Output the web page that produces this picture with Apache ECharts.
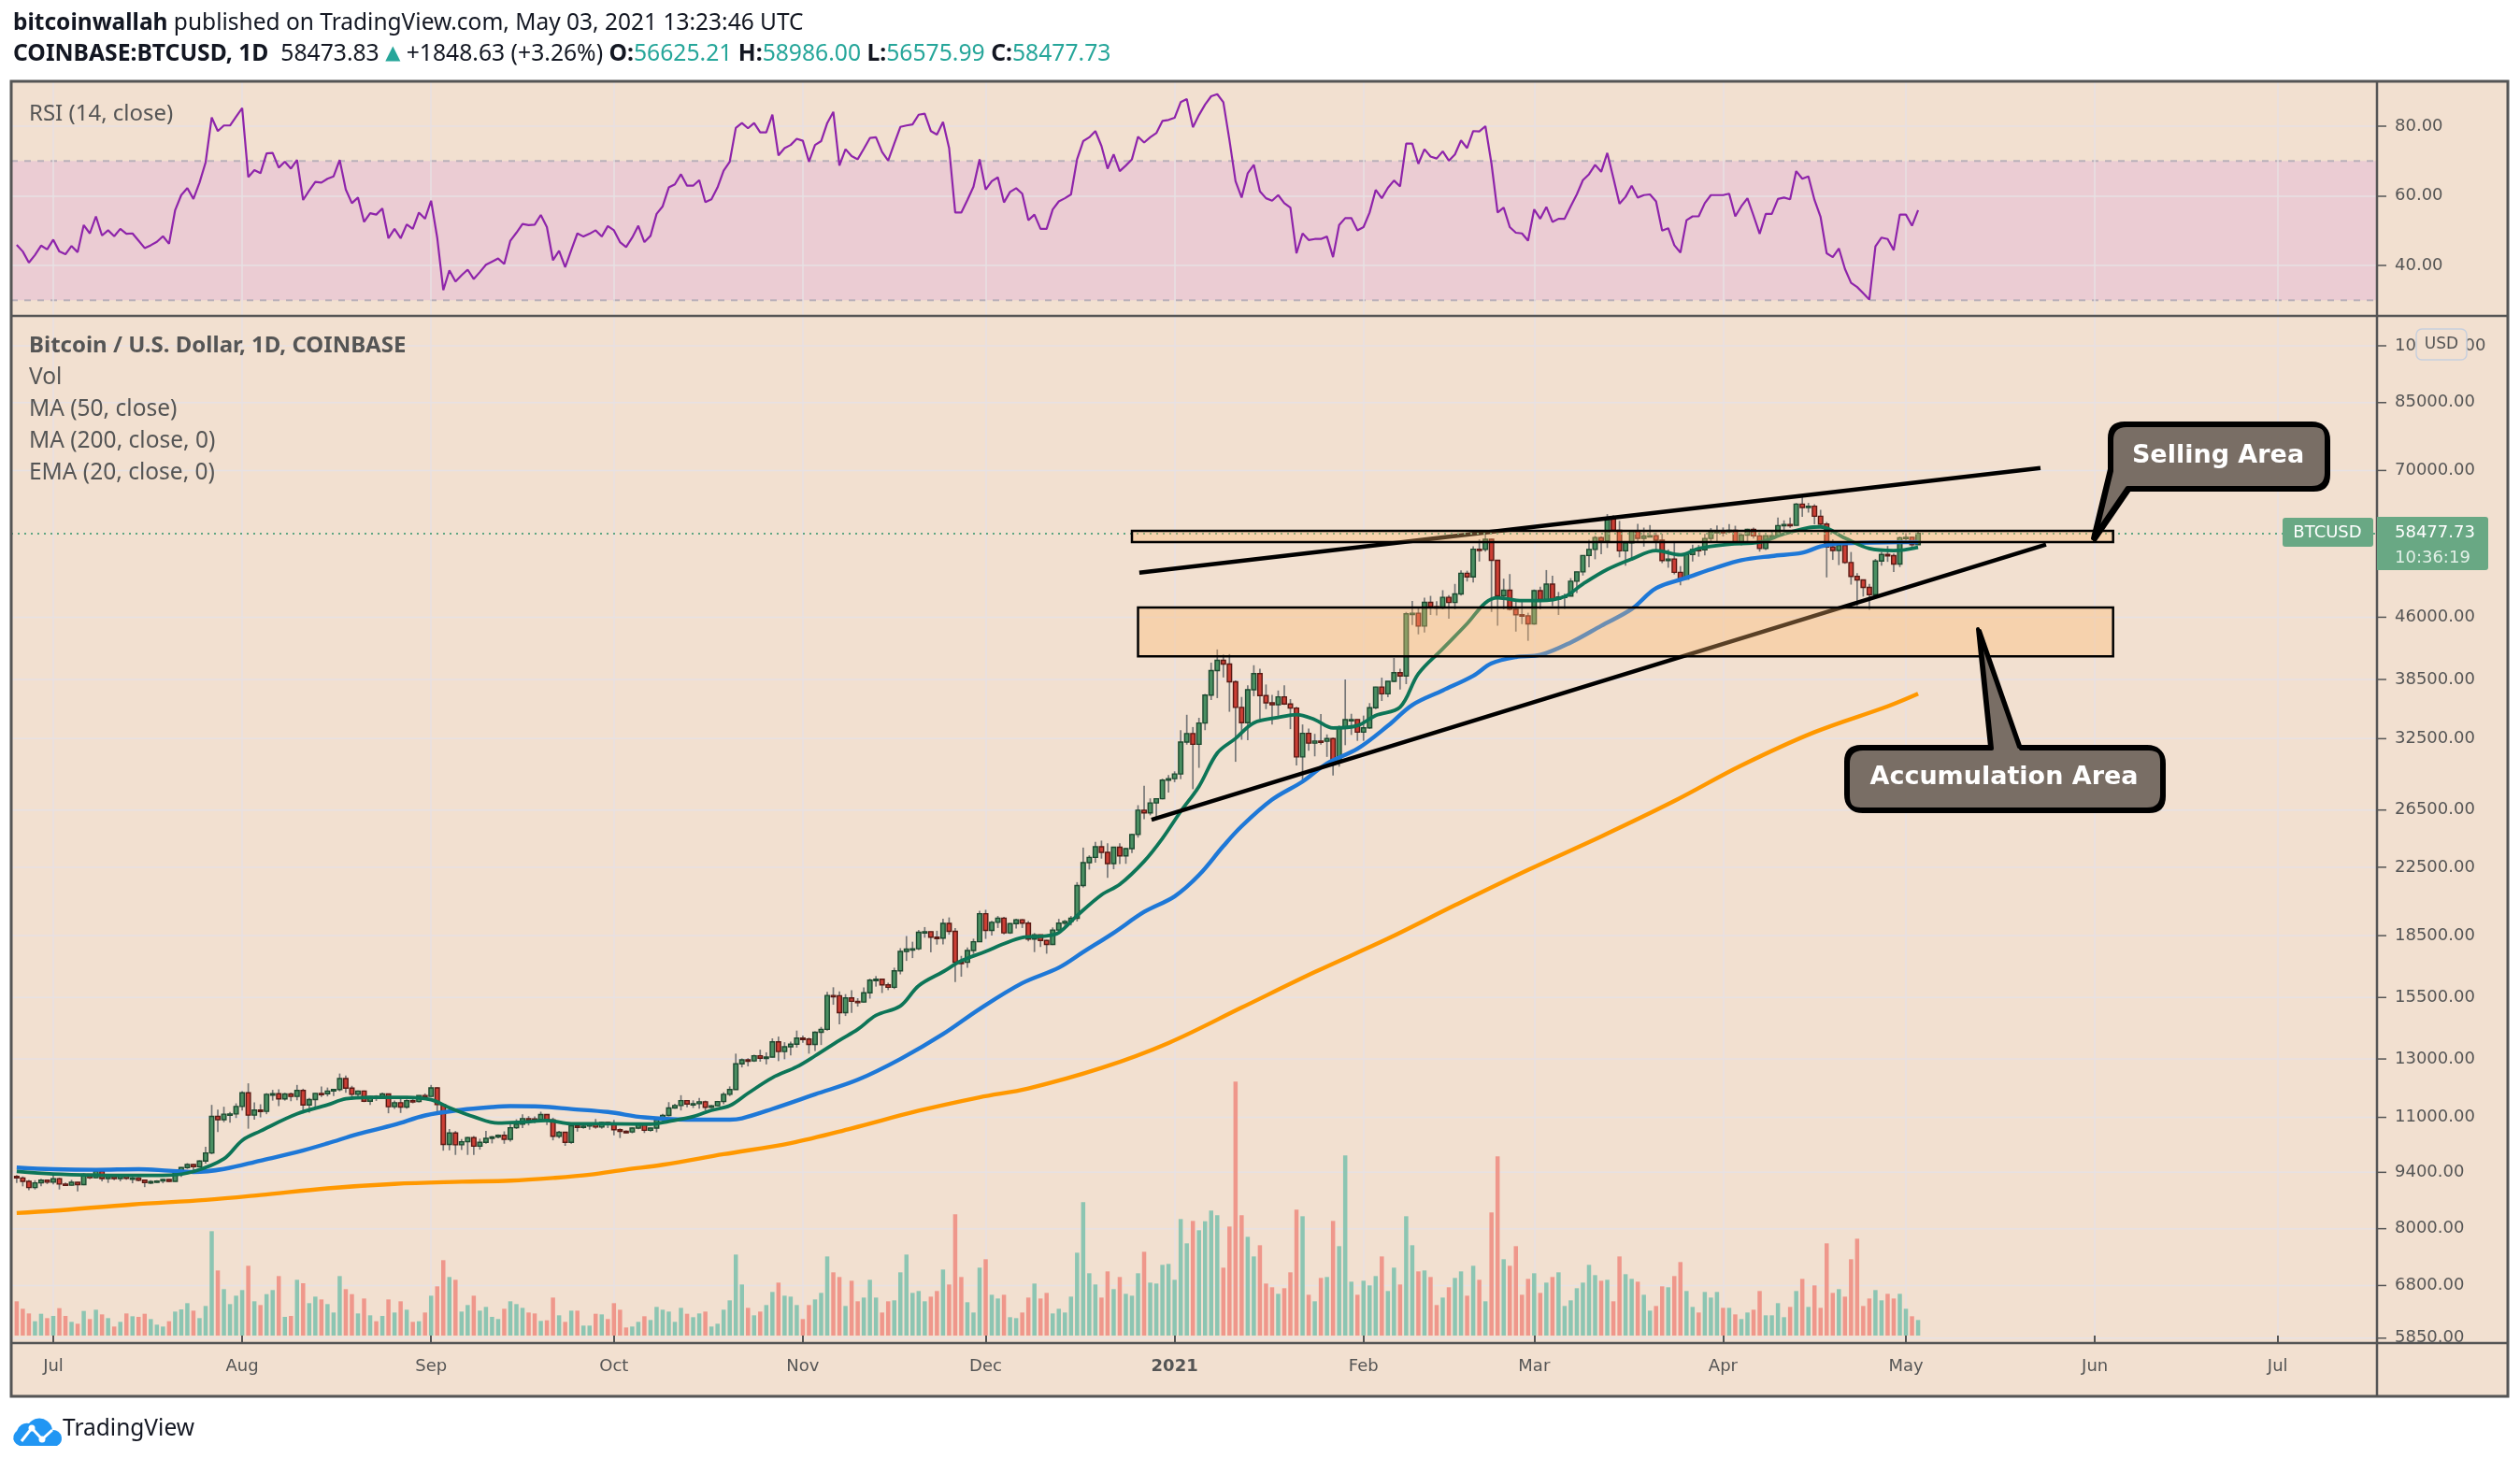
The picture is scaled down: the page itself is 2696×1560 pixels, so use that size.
<!DOCTYPE html>
<html><head><meta charset="utf-8">
<script src="https://cdn.jsdelivr.net/npm/echarts@6/dist/echarts.min.js"></script>
<style>html,body{margin:0;padding:0;background:#fff}#c{width:2696px;height:1560px}</style>
</head><body><div id="c"></div>
<script>
// ---------- DATA ----------
const firstDate = '2020-06-25';
const firstOpen = 9290;
const closes = [
// Jun 25-30
9250,9160,9000,9120,9190,9140,
// Jul
9230,9090,9060,9135,9075,9345,9255,9435,9235,9290,9235,9300,9240,9250,9190,9130,9155,9170,9210,9160,9390,9530,9610,9550,9710,9935,11030,10930,11100,11110,11350,
// Aug
11800,11070,11230,11190,11750,11770,11600,11760,11680,11880,11400,11575,11780,11770,11860,11910,12290,11960,11750,11860,11520,11680,11650,11760,11340,11470,11330,11540,11510,11710,11680,
// Sep
11970,11410,10180,10520,10170,10260,10380,10130,10240,10360,10400,10450,10330,10680,10790,10960,10950,10940,11090,10920,10420,10540,10240,10740,10690,10730,10780,10700,10840,10780,
// Oct
10620,10570,10550,10670,10790,10600,10670,10920,11060,11300,11380,11540,11430,11440,11500,11320,11370,11510,11750,11910,12820,12970,12930,13120,13030,13070,13650,13280,13460,13560,13800,
// Nov
13760,13550,14030,14150,15590,15580,14840,15480,15330,15300,15710,16290,16330,16070,15960,16730,17680,17800,17820,18680,18710,18420,18370,19160,18730,17150,17140,17730,18180,19700,
// Dec
18780,19220,19450,18650,19150,19360,19170,18320,18550,18250,18040,18800,19170,19270,19440,21350,22800,23140,23860,23480,22740,23820,23240,23730,24710,26490,26280,27040,27370,28860,28990,
// Jan
29380,32190,32980,31980,33990,36820,39490,40670,40240,38240,35540,34020,37390,39150,36770,36010,35820,36630,35890,35470,30850,33000,32090,32280,32260,32510,30430,33470,34320,34330,33110,
// Feb
33530,35510,37670,36950,38300,39250,38880,46450,46530,44850,48000,47410,47230,48690,47980,49170,52170,51630,55890,55840,57490,54130,48900,49700,47060,46330,46190,45140,
// Mar
49630,48380,50560,48440,48760,48880,51000,52380,54890,55850,57770,57230,61190,59000,55630,56900,58920,57650,58030,58100,57350,54100,54340,52300,51320,55050,55850,55780,57630,58760,58800,
// Apr
58730,58970,57090,58200,59130,58050,56000,58090,58100,59780,59990,59830,63580,62960,63200,61400,60050,56240,55690,56500,53800,51700,51190,50100,49070,54020,55040,54860,53570,57750,
// May 1-3
57830,56625.21,58477.73
];
const highs = [
9330,9290,9200,9190,9230,9200,
9310,9260,9130,9200,9140,9380,9360,9460,9440,9310,9290,9340,9340,9280,9270,9210,9190,9190,9230,9220,9420,9540,9650,9630,9730,10110,11400,11250,11340,11170,11450,
11860,12125,11480,11420,11790,11900,11920,11800,11810,12070,11940,11630,11790,12020,11980,11930,12470,12400,12040,11880,11880,11690,11720,11810,11770,11540,11590,11580,11590,11720,11780,
12070,11990,11440,10640,10580,10340,10400,10430,10350,10580,10430,10480,10570,10780,10940,11100,11040,11030,11180,11090,10990,10580,10550,10770,10760,10800,10800,10950,10860,10860,
10920,10660,10600,10690,10800,10800,10680,10950,11110,11490,11440,11720,11560,11550,11630,11540,11400,11530,11820,12020,13200,13020,13030,13160,13350,13250,13790,13860,13640,13660,14100,
13900,13820,14070,14250,15750,15960,15770,15650,15830,15470,15950,16360,16480,16330,16170,16880,17850,18480,18180,18800,18960,18710,18760,19420,19490,18900,17460,17880,18340,19860,
19920,19300,19570,19520,19180,19420,19400,19290,18640,18560,18280,18940,19410,19350,19570,21560,23800,23280,24200,24280,24100,23840,24100,23790,24770,26870,28400,27400,27400,28990,29300,
29600,33300,34800,33600,34500,36940,40400,41950,41350,41400,38400,36620,37850,40100,39700,37950,36850,37300,37850,36400,35600,33850,33450,32950,34880,32900,32600,33750,38500,34900,34330,
34720,35980,37700,38700,38300,40950,39700,46700,48200,47330,48650,48900,48150,49700,49000,50600,52600,52550,56350,57500,58350,57580,54200,51370,52050,48400,48280,46600,
49800,50200,52650,51800,49450,49200,51450,52400,54900,57400,58100,58000,61790,61600,60600,56950,58980,60100,59450,59880,58600,58430,55850,57200,53250,55100,56600,56550,58400,59370,59800,
59470,60050,59760,58500,59250,59450,58650,58150,58850,61200,60700,61200,63780,64900,63800,63550,62550,60400,57500,57100,56770,55440,52200,51250,50600,54350,55450,56400,55200,57950,
58500,57950,58986
];
const lows = [
9120,9030,8930,8950,9030,9090,
9080,8950,9040,9050,8900,9060,9220,9240,9160,9120,9190,9160,9200,9110,9160,9010,9090,9120,9110,9140,9150,9280,9490,9460,9530,9640,9900,10550,10850,10830,10980,
11220,10650,10930,11000,11100,11540,11360,11540,11520,11550,11130,11150,11280,11660,11680,11690,11850,11800,11570,11670,11490,11400,11530,11600,11130,11270,11140,11280,11450,11480,11600,
11670,11170,10000,10010,9880,10020,9880,9880,10030,10200,10210,10360,10200,10260,10640,10670,10750,10820,10890,10760,10300,10360,10140,10200,10560,10650,10620,10650,10650,10670,
10450,10370,10510,10510,10630,10520,10560,10540,10820,11030,11280,11220,11320,11300,11280,11220,11300,11360,11420,11690,11900,12690,12730,12890,12900,12800,13060,12920,12990,13130,13430,
13620,13200,13300,13530,14100,15180,14350,14700,14830,15100,15280,15450,15990,15700,15830,15880,16560,17210,17350,17750,18390,17640,18030,18040,18550,16200,16450,16880,17560,18190,
18330,18510,18910,18570,18590,18880,18910,18200,17650,17910,17570,18010,18720,19000,19050,19270,21230,22350,22800,23060,21820,22370,22700,22720,23430,24490,25820,26100,25860,27320,27860,
28700,28950,31950,28130,29900,33300,36300,36500,38720,35100,30420,32400,32350,36700,34400,35370,33850,34700,35800,33400,30100,28800,31400,30900,31950,30850,29250,30000,31900,32850,32300,
32300,33420,35360,36200,36600,38200,37400,37990,45000,43800,44050,46300,46250,47050,45800,47050,48950,50950,50800,53950,55480,46700,44900,47050,46900,44150,45100,43000,
45030,47050,48150,47500,46300,47100,48880,49300,51830,53050,54300,55100,56080,58950,54600,53300,54150,57000,56300,57850,55500,53700,53000,52000,50400,51300,53950,54700,54900,57000,56870,
57950,58450,56950,56500,56800,57600,55500,55750,57650,57900,59000,59400,59800,61300,62050,60000,59600,51550,54200,53400,53600,50500,47500,48800,47000,48800,53300,53900,52350,53100,
57050,56050,56575.99
];
// volume bar heights, in the picture's own units (same day order)
const volumes = [
110,86,71,46,70,56,
63,88,63,44,38,79,53,83,68,56,
29,44,71,62,60,70,53,35,29,46,
77,84,104,80,56,95,335,209,149,101,
128,146,224,110,98,133,146,191,60,63,
179,168,104,125,116,101,74,191,149,133,
71,119,65,46,63,116,74,110,83,44,
46,74,128,158,242,188,179,77,98,128,
80,92,60,53,86,110,101,89,74,71,
47,49,122,65,44,80,80,32,32,70,
68,53,104,83,26,29,44,62,50,92,
83,77,44,89,70,59,71,77,29,38,
83,113,260,164,89,65,77,98,140,170,
128,125,98,53,98,116,137,254,203,188,
95,176,110,122,179,122,74,110,113,203,
260,137,143,110,125,143,212,164,389,188,
107,74,218,245,131,119,131,59,56,74,
122,167,119,137,71,86,74,125,266,428,
200,164,122,206,149,188,134,128,200,269,
170,167,227,230,179,374,296,368,338,367,
401,386,218,350,815,386,317,254,290,167,
155,134,152,203,404,383,131,110,185,188,
368,287,578,173,131,176,161,191,254,143,
218,164,383,290,206,209,188,98,122,155,
185,206,128,224,179,110,395,575,245,224,
287,131,182,200,137,170,188,203,95,113,
152,170,227,194,176,179,110,254,197,182,
173,131,80,95,158,155,191,236,143,92,
74,140,122,140,89,89,68,53,74,83,
143,65,65,104,59,92,143,182,92,161,
89,296,137,149,125,245,311,95,119,146,
113,134,119,134,86,62,50
];
const rsiValues = [
45.9,44,40.8,43,45.7,44.6,
47.4,44,43.2,45.6,43.8,51.6,49.2,54.1,48.6,50.1,
48.4,50.5,49.1,49.2,47.1,45,45.8,46.8,48.4,46.2,
55.9,60.2,62.2,59.1,63.8,69.6,82.5,78.6,80.2,80.2,
82.7,85.2,65.4,67.4,66.5,72.2,72.3,68.1,69.8,67.8,
70.3,58.8,61.5,64,63.8,64.9,65.6,70.3,61.8,57.9,
59.5,52.5,55,54.6,56.4,47.8,50.5,47.8,51.8,50.5,
55.2,53.4,58.6,48,32.9,38.6,35.4,37.2,38.8,36.1,
38.1,40.2,41.1,42,40.4,47.1,49.4,51.9,51.6,51.7,
54.5,51,41.5,44.2,39.5,44.4,49.2,48.3,49.1,50.1,
48.3,51.3,50.1,46.7,45.3,48,51.4,46.7,48.5,54.8,
57,62.4,63.3,66.2,62.9,62.9,64.5,58.2,59,62.4,
67.2,69.8,79.5,80.9,79.4,80.9,78.2,78.2,83.3,71.6,
73.7,74.6,76.4,75.8,69.8,74.6,75.7,80.9,84.1,68.7,
73.4,71.4,70.5,73.5,76.6,76.8,72.6,70.1,75,79.8,
80.2,80.5,83.3,83.6,78.6,77.6,81.2,73.7,55.2,55.2,
58.8,62.6,70.5,61.8,64.2,65.3,58.1,61.1,62.2,60.6,
53,54.6,50.5,50.5,56.1,58.4,59.3,60.4,70.5,75.7,
76.8,78.6,74.3,67.8,71.9,67.1,68.7,70.5,77,75.3,
76.8,78,81.5,81.8,82.4,86.9,87.8,79.7,83.2,86.2,
88.6,89.2,86.9,76,64.2,59.5,66.5,68.9,61.3,59.3,
58.6,60.2,57.9,56.6,43.5,49.2,47.3,47.6,47.6,48.3,
42.4,51.6,53.6,53.6,50.1,51,55.2,61.7,59.3,62.3,
64.4,62.7,75,75,69.2,73.4,71.3,70.7,72.8,70.1,
71.9,75.9,73.7,78.6,78.5,80,69.2,55.2,56.6,51,
49.4,49.2,47.1,56.1,53.4,56.8,52.5,53.4,53.4,57,
60.4,64.5,66.2,68.9,66.9,72.3,65.1,57.7,59.7,62.9,
59.5,60.2,60.4,58.4,50,50.7,45.8,43.7,53,54.1,
54.1,57.9,60.2,60.2,60.2,60.6,54.1,57,59.3,54.3,
49.1,54.8,54.8,59.1,59.5,59,67.1,64.9,65.6,58.8,
53.9,43.5,42.4,44.9,39,35,33.8,32,30.2,45.5,
48,47.6,44.4,54.6,54.6,51.4,55.9
];
// moving averages, sampled along the picture (day offsets from maBaseDate)
const maBaseDate = '2020-07-01';
const ma50Days = [-6,0,7,14,19,23,28,34,40,45,50,56,61,67,72,75,80,85,91,97,104,111,113,118,125,132,139,146,152,159,165,169,174,179,184,188,192,195,200,205,209,214,219,223,228,233,236,240,244,249,254,259,263,268,273,277,282,287,290,293,296,301,306];
const ma50Values = [9530,9485,9468,9485,9443,9410,9490,9720,9960,10210,10490,10770,11060,11240,11330,11360,11345,11265,11170,11000,10930,10930,10970,11270,11750,12250,13000,13960,15000,16150,16880,17650,18650,19800,20700,22000,23900,25300,27300,28750,30280,31570,33720,35790,37310,38900,40320,41050,41300,42800,44890,47090,49980,51500,53060,54150,54800,55320,56320,56820,56900,57000,57040];
const ema20Days = [-6,0,7,13,19,23,28,31,34,40,45,48,52,58,62,65,69,73,77,81,85,91,98,101,105,108,111,114,118,122,125,129,132,135,139,142,146,149,153,156,159,163,165,168,172,175,179,182,185,188,191,194,197,201,204,207,210,214,217,221,224,228,232,235,237,241,244,248,251,255,259,263,267,270,275,280,284,288,290,294,298,302,306];
const ema20Values = [9424,9357,9324,9316,9324,9420,9770,10300,10580,11110,11400,11600,11650,11650,11570,11310,11020,10820,10850,10900,10800,10800,10790,10876,11025,11224,11374,11785,12322,12713,13116,13713,14148,14727,15126,16028,16684,17213,17680,18079,18405,18485,18660,19590,20790,21420,22880,24430,26390,28350,31190,32520,34000,34530,34820,34320,33510,33740,34740,35570,39140,42040,45160,47940,48630,48230,48230,48810,50590,52740,54340,55660,54990,55990,56670,57010,58380,59430,59570,57690,55990,55660,56190];
const ma200Days = [-6,0,13,25,34,45,56,67,75,82,88,94,100,110,121,131,142,152,160,172,183,195,207,219,230,242,254,266,277,289,301,306];
const ma200Values = [8367,8420,8575,8686,8809,8979,9094,9150,9180,9250,9335,9476,9605,9900,10220,10660,11210,11650,11950,12670,13610,15060,16670,18340,20180,22330,24570,27190,30100,33110,35650,36960];
// drawings
const sellingZone = {from:'2020-12-25', to:'2021-06-04', low:57040, high:58900};
const accumZone = {from:'2020-12-26', to:'2021-06-04', low:41120, high:47300};
const upperTrend = [['2020-12-26T05:00:00Z', 52240], ['2021-05-23T02:00:00Z', 70480]];
const lowerTrend = [['2020-12-28T05:00:00Z', 25770], ['2021-05-24T00:00:00Z', 56640]];
const lastPrice = 58477.73;
const rsiBand = [30, 70];
// ticks / labels
const priceTicks = [5850,6800,8000,9400,11000,13000,15500,18500,22500,26500,32500,38500,46000,70000,85000,100000];
const rsiTicks = [40,60,80];
const monthTicks = ['2020-07-01','2020-08-01','2020-09-01','2020-10-01','2020-11-01','2020-12-01','2021-01-01','2021-02-01','2021-03-01','2021-04-01','2021-05-01','2021-06-01','2021-07-01'];
const monthLabels = ['Jul','Aug','Sep','Oct','Nov','Dec','2021','Feb','Mar','Apr','May','Jun','Jul'];
const viewFrom = '2020-06-24T02:24:00Z', viewTo = '2021-07-17T07:12:00Z';
const priceMin = 5768, priceMax = 108930, rsiMin = 25.51, rsiMax = 92.89;

// ---------- BUILD ----------
const DAY = 86400000;
const toT = s => Date.parse(s.length > 10 ? s : s + 'T00:00:00Z');
const T0 = toT(firstDate), MB = toT(maBaseDate);
const xMin = toT(viewFrom), xMax = toT(viewTo);
const monthTs = monthTicks.map(toT);
const candleData = closes.map((c, i) => [T0 + i * DAY, i ? closes[i - 1] : firstOpen, c, lows[i], highs[i]]);
const volData = volumes.map((v, i) => ({value: [T0 + i * DAY, v], itemStyle: {color: candleData[i][2] >= candleData[i][1] ? '#8cc5b2' : '#ef978b'}}));
const rsiData = rsiValues.map((v, i) => [T0 + i * DAY, v]);
const maLine = (days, vals) => days.map((d, i) => [MB + d * DAY, vals[i]]);

const GRIDC = '#e7e1e3';
const AXC = '#555555';
const AXFONT = '"DejaVu Sans"';
const UI = '"Noto Sans"';

function candleItem(params, api) {
  const t = api.value(0), o = api.value(1), c = api.value(2), l = api.value(3), h = api.value(4);
  const pO = api.coord([t, o]), pC = api.coord([t, c]), pH = api.coord([t, h]), pL = api.coord([t, l]);
  const w = (api.coord([t + DAY, c])[0] - pC[0]) * 0.7;
  const up = c >= o;
  const top = Math.min(pO[1], pC[1]), bot = Math.max(pO[1], pC[1]);
  return {type: 'group', children: [
    {type: 'line', shape: {x1: pH[0], y1: pH[1], x2: pL[0], y2: pL[1]}, style: {stroke: '#777777', lineWidth: 1.7}},
    {type: 'rect', shape: {x: pC[0] - w / 2, y: top, width: w, height: Math.max(bot - top, 1.5)},
     style: {fill: up ? '#4a8f62' : '#cc3f35', stroke: up ? '#1d4a30' : '#5a1a14', lineWidth: 1.4}}
  ]};
}
function rectItem(fill, stroke, lw) {
  return function (params, api) {
    const a = api.coord([api.value(0), api.value(3)]), b = api.coord([api.value(2), api.value(1)]);
    return {type: 'rect', shape: {x: a[0], y: a[1], width: b[0] - a[0], height: b[1] - a[1]},
            style: {fill: fill, stroke: stroke, lineWidth: lw}};
  };
}
function rsiBandItem(params, api) {
  const a = api.coord([api.value(0), api.value(3)]), b = api.coord([api.value(2), api.value(1)]);
  const dash = {stroke: '#b9b0b9', lineWidth: 2, lineDash: [7, 7]};
  return {type: 'group', children: [
    {type: 'rect', shape: {x: a[0], y: a[1], width: b[0] - a[0], height: b[1] - a[1]}, style: {fill: 'rgba(200,100,230,0.16)'}},
    {type: 'line', shape: {x1: a[0], y1: a[1], x2: b[0], y2: a[1]}, style: dash},
    {type: 'line', shape: {x1: a[0], y1: b[1], x2: b[0], y2: b[1]}, style: dash}
  ]};
}
function priceTickItem(params, api) {
  const v = api.value(1);
  const r = api.coord([api.value(0), v]), l = api.coord([xMin, v]);
  return {type: 'group', children: [
    {type: 'line', shape: {x1: l[0], y1: r[1], x2: r[0], y2: r[1]}, style: {stroke: GRIDC, lineWidth: 1.5}},
    {type: 'line', shape: {x1: r[0], y1: r[1], x2: r[0] + 10, y2: r[1]}, style: {stroke: AXC, lineWidth: 1.5}},
    {type: 'text', x: r[0] + 19, y: r[1], style: {text: v.toFixed(2), font: '18px ' + AXFONT, fill: AXC,
      align: 'left', verticalAlign: 'middle', textAlign: 'left', textVerticalAlign: 'middle'}}
  ]};
}
// speech-bubble callouts (pixel drawing, like the original's text notes)
const calloutStyle = {fill: '#796e65', stroke: '#000', lineWidth: 4, lineJoin: 'round', shadowColor: '#000', shadowOffsetX: 2, shadowOffsetY: 2, shadowBlur: 0};
const centerText = (x, y, text, font, fill) => ({type: 'text', x, y, style: {text, font, fill, align: 'center', verticalAlign: 'middle', textAlign: 'center', textVerticalAlign: 'middle'}});
function calloutItem() {
  return {type: 'group', children: [
    {type: 'path', shape: {pathData: 'M2273,453 L2473,453 Q2489,453 2489,469 L2489,506 Q2489,522 2473,522 L2276,522 L2239,576 L2257,502 L2257,469 Q2257,453 2273,453 Z'}, style: calloutStyle},
    centerText(2373, 488, 'Selling Area', 'bold 27px ' + AXFONT, '#ffffff'),
    {type: 'path', shape: {pathData: 'M1991,799 L2129,799 L2116,673 L2160,799 L2297,799 Q2313,799 2313,815 L2313,850 Q2313,866 2297,866 L1991,866 Q1975,866 1975,850 L1975,815 Q1975,799 1991,799 Z'}, style: calloutStyle},
    centerText(2144, 832, 'Accumulation Area', 'bold 27px ' + AXFONT, '#ffffff'),
    {type: 'path', shape: {pathData: 'M21,1547 A9,9 0 0 1 18,1531 A11,11 0 0 1 31,1523 A14,14 0 0 1 56,1530 A9,9 0 0 1 61,1547 Z'}, style: {fill: '#2196f3'}},
    {type: 'polyline', shape: {points: [[23, 1542], [34, 1528], [45, 1540], [56, 1530]]}, style: {stroke: '#ffffff', lineWidth: 3, fill: null}},
    {type: 'circle', shape: {cx: 45, cy: 1540, r: 3.5}, style: {fill: '#ffffff'}},
    {type: 'circle', shape: {cx: 34, cy: 1528, r: 3.5}, style: {fill: '#ffffff'}}
  ]};
}

const lineS = (name, data, color, width, z) => ({
  name, type: 'line', xAxisIndex: 1, yAxisIndex: 1, data, showSymbol: false, symbol: 'none',
  smooth: 0.35, z, silent: true, lineStyle: {color, width}, emphasis: {disabled: true}
});

const txt = (x, y, text, font, fill, extra) => Object.assign({type: 'text', x, y, z: 100, silent: true,
  style: {text, font, fill, verticalAlign: 'middle', textVerticalAlign: 'middle'}}, extra || {});

const option = {
  backgroundColor: '#ffffff',
  animation: false,
  grid: [
    {left: 12, right: 153, top: 87, height: 251, outerBoundsMode: 'none'},
    {left: 12, right: 153, top: 338, height: 1099, outerBoundsMode: 'none'}
  ],
  xAxis: [
    {type: 'value', gridIndex: 0, min: xMin, max: xMax, z: 1,
     axisLine: {show: false}, axisTick: {show: false, customValues: monthTs},
     axisLabel: {show: false, customValues: monthTs},
     splitLine: {show: true, lineStyle: {color: GRIDC, width: 1.5}}},
    {type: 'value', gridIndex: 1, min: xMin, max: xMax,
     axisLine: {show: false},
     axisTick: {show: true, customValues: monthTs, length: 8, lineStyle: {color: AXC, width: 2}},
     axisLabel: {customValues: monthTs, color: AXC, fontFamily: AXFONT, fontSize: 18, margin: 16,
       formatter: function (v) { const i = monthTs.indexOf(v); const s = i >= 0 ? monthLabels[i] : ''; return s === '2021' ? '{y|' + s + '}' : s; },
       rich: {y: {fontFamily: AXFONT, fontSize: 18, fontWeight: 'bold', color: AXC}}},
     splitLine: {show: true, lineStyle: {color: GRIDC, width: 1.5}}}
  ],
  yAxis: [
    {type: 'value', gridIndex: 0, position: 'right', min: rsiMin, max: rsiMax, z: 1,
     axisLine: {show: false},
     axisTick: {show: true, customValues: rsiTicks, length: 10, lineStyle: {color: AXC, width: 1.5}},
     axisLabel: {customValues: rsiTicks, formatter: v => v.toFixed(2), color: AXC, fontFamily: AXFONT, fontSize: 18, margin: 19},
     splitLine: {show: true, lineStyle: {color: GRIDC, width: 1.5}}},
    {type: 'log', gridIndex: 1, position: 'right', min: priceMin, max: priceMax,
     axisLine: {show: false}, axisTick: {show: false}, axisLabel: {show: false}, splitLine: {show: false}},
    {type: 'value', gridIndex: 1, min: -24, max: 3273, show: false, splitLine: {show: false}}
  ],
  series: [
    {type: 'custom', xAxisIndex: 0, yAxisIndex: 0, z: 0, silent: true, clip: false,
     data: [[xMin, rsiBand[0], xMax, rsiBand[1]]], encode: {x: [0, 2], y: [1, 3]}, renderItem: rsiBandItem},
    {name: 'RSI', type: 'line', xAxisIndex: 0, yAxisIndex: 0, data: rsiData, showSymbol: false, symbol: 'none', z: 3,
     silent: true, lineStyle: {color: '#8e24aa', width: 2.2}},
    {type: 'custom', xAxisIndex: 1, yAxisIndex: 1, z: 0, silent: true, clip: false,
     data: priceTicks.map(v => [xMax, v]), encode: {x: 0, y: 1}, renderItem: priceTickItem},
    {name: 'Vol', type: 'bar', xAxisIndex: 1, yAxisIndex: 2, data: volData, barWidth: 4.5, z: 1, silent: true},
    {name: 'BTCUSD', type: 'custom', xAxisIndex: 1, yAxisIndex: 1, z: 2, silent: true,
     data: candleData, encode: {x: 0, y: [1, 2, 3, 4]}, renderItem: candleItem},
    lineS('MA200', maLine(ma200Days, ma200Values), '#ff9800', 4.4, 3),
    lineS('MA50', maLine(ma50Days, ma50Values), '#1e78d7', 4.4, 3),
    lineS('EMA20', maLine(ema20Days, ema20Values), '#0d7557', 3.8, 3),
    Object.assign(lineS('upper', upperTrend.map(p => [toT(p[0]), p[1]]), '#000000', 4.5, 4), {smooth: false,
      markLine: {silent: true, symbol: 'none', label: {show: false},
        lineStyle: {color: '#5fa683', type: [2, 5], width: 1.8}, data: [{yAxis: lastPrice}]}}),
    Object.assign(lineS('lower', lowerTrend.map(p => [toT(p[0]), p[1]]), '#000000', 4.5, 4), {smooth: false}),
    {type: 'custom', xAxisIndex: 1, yAxisIndex: 1, z: 5, silent: true, clip: false,
     data: [sellingZone, accumZone].map(z => [toT(z.from), z.low, toT(z.to), z.high]),
     encode: {x: [0, 2], y: [1, 3]}, renderItem: rectItem('rgba(255,183,110,0.35)', '#000000', 2.5)},
    {type: 'custom', coordinateSystem: 'none', z: 50, silent: true, clip: false, data: [[0]], renderItem: calloutItem}
  ],
  graphic: [
    {type: 'rect', z: -10, silent: true, shape: {x: 12, y: 87, width: 2671, height: 1407}, style: {fill: '#f2e0d0'}},
    {type: 'rect', z: 100, silent: true, shape: {x: 12, y: 87, width: 2671, height: 1407}, style: {fill: 'none', stroke: '#555', lineWidth: 3}},
    {type: 'line', z: 100, silent: true, shape: {x1: 12, y1: 338, x2: 2683, y2: 338}, style: {stroke: '#555', lineWidth: 2.5}},
    {type: 'line', z: 100, silent: true, shape: {x1: 12, y1: 1437, x2: 2683, y2: 1437}, style: {stroke: '#555', lineWidth: 2.5}},
    {type: 'line', z: 100, silent: true, shape: {x1: 2543, y1: 87, x2: 2543, y2: 1494}, style: {stroke: '#555', lineWidth: 2.5}},
    // header
    txt(14, 25, '', '24.5px ' + UI, '#131722',
      {style: {text: '{b|bitcoinwallah} published on TradingView.com, May 03, 2021 13:23:46 UTC', font: '24.5px ' + UI, fill: '#131722',
        verticalAlign: 'middle', textVerticalAlign: 'middle', rich: {b: {font: 'bold 24.5px ' + UI, fill: '#131722'}}}}),
    txt(14, 58, '', '24.7px ' + UI, '#131722',
      {style: {text: '{b|COINBASE:BTCUSD, 1D}  58473.83 {a|▲} +1848.63 (+3.26%) {b|O:}{t|56625.21} {b|H:}{t|58986.00} {b|L:}{t|56575.99} {b|C:}{t|58477.73}',
        font: '24.7px ' + UI, fill: '#131722', verticalAlign: 'middle', textVerticalAlign: 'middle',
        rich: {b: {font: 'bold 24.7px ' + UI, fill: '#131722'}, t: {font: '24.7px ' + UI, fill: '#26a69a'}, a: {font: '21px ' + AXFONT, fill: '#26a69a'}}}}),
    // indicator titles
    txt(31, 122, 'RSI (14, close)', '24px ' + UI, '#555'),
    txt(31, 370, 'Bitcoin / U.S. Dollar, 1D, COINBASE', 'bold 24px ' + UI, '#555'),
    txt(31, 404, 'Vol', '24.5px ' + UI, '#555'),
    txt(31, 438, 'MA (50, close)', '24.5px ' + UI, '#555'),
    txt(31, 472, 'MA (200, close, 0)', '24.5px ' + UI, '#555'),
    txt(31, 506, 'EMA (20, close, 0)', '24.5px ' + UI, '#555'),
    // USD badge
    {type: 'rect', z: 101, silent: true, shape: {x: 2585, y: 352, width: 54, height: 33, r: 6}, style: {fill: '#f2e0d0', stroke: '#c7cfdd', lineWidth: 1.5}},
    txt(2612, 369, '', '17px ' + AXFONT, '#555', {z: 102, style: {text: 'USD', font: '17px ' + AXFONT, fill: '#555', align: 'center', textAlign: 'center', verticalAlign: 'middle', textVerticalAlign: 'middle'}}),
    // last price labels
    {type: 'rect', z: 101, silent: true, shape: {x: 2442, y: 554, width: 97, height: 31, r: 3}, style: {fill: '#69a884'}},
    txt(2490, 570, '', '18px ' + AXFONT, '#ffffff', {z: 102, style: {text: 'BTCUSD', font: '18px ' + AXFONT, fill: '#ffffff', align: 'center', textAlign: 'center', verticalAlign: 'middle', textVerticalAlign: 'middle'}}),
    {type: 'rect', z: 101, silent: true, shape: {x: 2543, y: 553, width: 119, height: 57, r: [0, 3, 3, 0]}, style: {fill: '#69a884'}},
    txt(2562, 570, '58477.73', '18px ' + AXFONT, '#ffffff', {z: 102}),
    txt(2562, 597, '10:36:19', '18px ' + AXFONT, '#e2f0e7', {z: 102}),
    txt(67, 1529, 'TradingView', '24.5px ' + UI, '#131722')
  ]
};
const chart = echarts.init(document.getElementById('c'), null, {renderer: 'canvas', width: 2696, height: 1560});
chart.setOption(option);
</script>
</body></html>
